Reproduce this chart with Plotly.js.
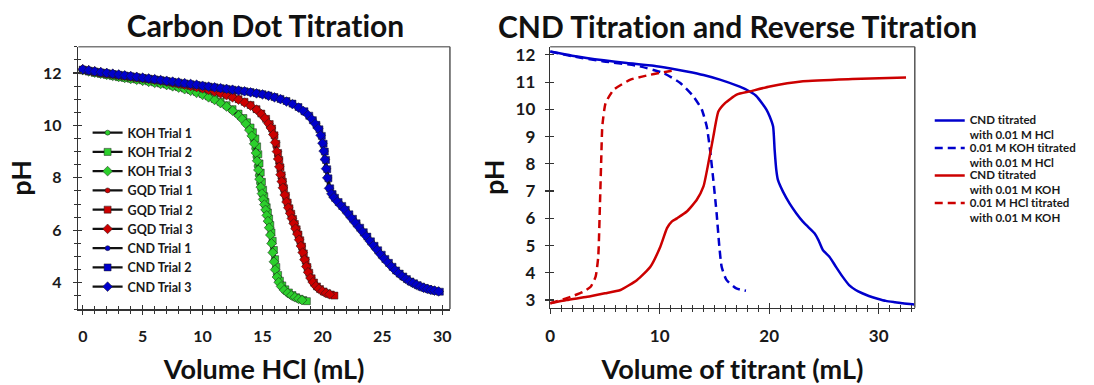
<!DOCTYPE html>
<html>
<head>
<meta charset="utf-8">
<script src="https://cdn.plot.ly/plotly-3.0.1.min.js"></script>
<style>html,body{margin:0;padding:0;background:#fff;}#chart{width:1094px;height:385px;}
svg text{font-variant-ligatures:none;font-feature-settings:"liga" 0,"clig" 0;}
#chart .infolayer g.legend2 text{font-size:11.5px !important;}</style>
</head>
<body>
<div id="chart"></div>
<script>
// ---------- Left chart: Carbon Dot Titration (Volume HCl, mL vs pH) ----------
const kohT1X = [0,0.5,1,1.5,2,2.5,3,3.5,4,4.5,5,5.5,6,6.5,7,7.5,8,8.5,9,9.5,10,10.5,11,11.5,12,12.4,12.8,13.1,13.4,13.6,13.8,14.0,14.15,14.3,14.4,14.5,14.6,14.7,14.8,14.9,15.0,15.1,15.2,15.3,15.4,15.5,15.6,15.7,15.8,15.9,16.0,16.1,16.25,16.4,16.6,16.8,17.0,17.3,17.6,17.9,18.2,18.5];
const kohT1Y = [12.12,12.07,12.02,11.98,11.94,11.9,11.86,11.82,11.79,11.76,11.73,11.69,11.65,11.61,11.56,11.51,11.46,11.4,11.33,11.25,11.16,11.06,10.95,10.83,10.69,10.56,10.42,10.3,10.15,10.03,9.88,9.68,9.45,9.12,8.8,8.45,8.1,7.8,7.55,7.35,7.15,6.95,6.75,6.55,6.33,6.1,5.85,5.55,5.2,4.85,4.55,4.32,4.1,3.94,3.8,3.7,3.62,3.53,3.46,3.4,3.35,3.31];
const kohT2X = [0,0.5,1,1.5,2,2.5,3,3.5,4,4.5,5,5.5,6,6.5,7,7.5,8,8.5,9,9.5,10,10.5,11,11.5,12,12.5,13,13.4,13.7,14.0,14.2,14.4,14.55,14.65,14.75,14.85,14.95,15.05,15.15,15.25,15.35,15.45,15.55,15.65,15.75,15.85,15.95,16.05,16.15,16.3,16.45,16.65,16.9,17.2,17.5,17.8,18.1,18.4,18.7];
const kohT2Y = [12.1,12.05,12.0,11.96,11.92,11.88,11.84,11.81,11.78,11.75,11.72,11.68,11.64,11.6,11.56,11.51,11.46,11.41,11.35,11.28,11.2,11.11,11.01,10.9,10.77,10.62,10.45,10.28,10.12,9.92,9.74,9.5,9.2,8.9,8.55,8.2,7.85,7.55,7.3,7.08,6.88,6.68,6.45,6.2,5.92,5.6,5.25,4.9,4.6,4.3,4.08,3.9,3.75,3.63,3.53,3.45,3.39,3.34,3.3];
const kohT3X = [0,0.5,1,1.5,2,2.5,3,3.5,4,4.5,5,5.5,6,6.5,7,7.5,8,8.5,9,9.5,10,10.5,11,11.5,12,12.5,13,13.3,13.6,13.9,14.1,14.3,14.45,14.55,14.65,14.75,14.85,14.95,15.05,15.15,15.25,15.35,15.45,15.55,15.65,15.75,15.85,15.95,16.05,16.2,16.35,16.55,16.8,17.1,17.4,17.7,18.0,18.3];
const kohT3Y = [12.11,12.06,12.01,11.97,11.93,11.89,11.85,11.81,11.77,11.74,11.7,11.66,11.62,11.58,11.54,11.49,11.44,11.38,11.32,11.24,11.16,11.07,10.97,10.85,10.72,10.56,10.38,10.24,10.06,9.82,9.6,9.3,8.95,8.65,8.3,7.95,7.65,7.4,7.18,6.98,6.78,6.57,6.35,6.1,5.82,5.5,5.15,4.8,4.5,4.22,4.02,3.86,3.72,3.61,3.52,3.45,3.39,3.34];

const gqdT1X = [0,0.5,1,1.5,2,2.5,3,3.5,4,4.5,5,5.5,6,6.5,7,7.5,8,8.5,9,9.5,10,10.5,11,11.5,12,12.5,13,13.5,14,14.4,14.8,15.1,15.4,15.6,15.8,16.0,16.1,16.2,16.3,16.4,16.5,16.6,16.75,16.9,17.05,17.2,17.35,17.5,17.65,17.8,17.95,18.1,18.25,18.4,18.55,18.7,18.9,19.1,19.35,19.6,19.9,20.2,20.5,20.8];
const gqdT1Y = [12.13,12.09,12.05,12.01,11.97,11.94,11.91,11.88,11.85,11.82,11.79,11.76,11.73,11.7,11.66,11.62,11.58,11.54,11.5,11.45,11.4,11.34,11.28,11.21,11.13,11.05,10.96,10.85,10.72,10.58,10.42,10.27,10.08,9.92,9.7,9.4,9.15,8.85,8.55,8.25,7.98,7.72,7.42,7.15,6.92,6.7,6.5,6.3,6.1,5.9,5.68,5.45,5.2,4.92,4.65,4.42,4.2,4.03,3.88,3.78,3.69,3.62,3.57,3.53];
const gqdT2X = [0,0.5,1,1.5,2,2.5,3,3.5,4,4.5,5,5.5,6,6.5,7,7.5,8,8.5,9,9.5,10,10.5,11,11.5,12,12.5,13,13.5,14,14.5,14.9,15.3,15.6,15.8,16.0,16.15,16.3,16.4,16.5,16.6,16.7,16.8,16.95,17.1,17.25,17.4,17.55,17.7,17.85,18.0,18.15,18.3,18.45,18.6,18.75,18.9,19.1,19.3,19.55,19.8,20.1,20.4,20.7,21.0];
const gqdT2Y = [12.12,12.08,12.04,12.0,11.97,11.94,11.91,11.88,11.85,11.82,11.8,11.77,11.74,11.71,11.67,11.63,11.59,11.55,11.51,11.47,11.42,11.37,11.31,11.24,11.17,11.09,11.0,10.9,10.78,10.62,10.45,10.25,10.05,9.88,9.62,9.3,8.95,8.68,8.4,8.1,7.85,7.6,7.32,7.06,6.84,6.63,6.43,6.24,6.04,5.84,5.62,5.38,5.12,4.85,4.6,4.38,4.17,4.01,3.86,3.76,3.67,3.6,3.55,3.51];
const gqdT3X = [0,0.5,1,1.5,2,2.5,3,3.5,4,4.5,5,5.5,6,6.5,7,7.5,8,8.5,9,9.5,10,10.5,11,11.5,12,12.5,13,13.5,14,14.5,14.9,15.2,15.5,15.7,15.9,16.05,16.2,16.3,16.4,16.5,16.6,16.7,16.85,17.0,17.15,17.3,17.45,17.6,17.75,17.9,18.05,18.2,18.35,18.5,18.65,18.8,19.0,19.2,19.45,19.7,20.0,20.3,20.6];
const gqdT3Y = [12.14,12.1,12.06,12.02,11.98,11.95,11.92,11.89,11.86,11.83,11.8,11.77,11.74,11.71,11.67,11.63,11.59,11.55,11.5,11.46,11.41,11.35,11.29,11.22,11.15,11.07,10.98,10.87,10.75,10.6,10.43,10.27,10.07,9.9,9.65,9.35,9.0,8.72,8.42,8.12,7.86,7.62,7.35,7.08,6.86,6.65,6.45,6.26,6.06,5.86,5.64,5.4,5.15,4.88,4.62,4.4,4.18,4.02,3.87,3.77,3.68,3.61,3.56];

const cndT1X = [0,0.5,1,1.5,2,2.5,3,3.5,4,4.5,5,5.5,6,6.5,7,7.5,8,8.5,9,9.5,10,10.5,11,11.5,12,12.5,13,13.5,14,14.5,15,15.5,16,16.5,17,17.5,18,18.4,18.8,19.1,19.4,19.6,19.8,19.95,20.05,20.15,20.25,20.35,20.5,20.7,20.9,21.2,21.5,21.8,22.1,22.4,22.7,23.0,23.3,23.6,23.9,24.2,24.5,24.8,25.1,25.4,25.7,26.0,26.3,26.6,26.9,27.2,27.5,27.8,28.1,28.4,28.7,29.0,29.3,29.6];
const cndT1Y = [12.13,12.09,12.05,12.02,11.99,11.96,11.93,11.9,11.87,11.84,11.81,11.78,11.75,11.72,11.69,11.66,11.63,11.6,11.57,11.54,11.5,11.47,11.44,11.41,11.38,11.35,11.32,11.29,11.26,11.22,11.18,11.12,11.06,10.98,10.9,10.8,10.66,10.53,10.38,10.22,10.05,9.9,9.65,9.35,9.05,8.72,8.38,8.02,7.62,7.4,7.26,7.1,6.95,6.8,6.63,6.46,6.29,6.12,5.95,5.78,5.6,5.43,5.26,5.09,4.93,4.78,4.63,4.49,4.37,4.26,4.16,4.07,4.0,3.93,3.87,3.82,3.78,3.74,3.71,3.68];
const cndT2X = [0,0.5,1,1.5,2,2.5,3,3.5,4,4.5,5,5.5,6,6.5,7,7.5,8,8.5,9,9.5,10,10.5,11,11.5,12,12.5,13,13.5,14,14.5,15,15.5,16,16.5,17,17.5,18,18.5,18.9,19.2,19.5,19.75,19.95,20.1,20.2,20.3,20.4,20.5,20.65,20.85,21.05,21.35,21.65,21.95,22.25,22.55,22.85,23.15,23.45,23.75,24.05,24.35,24.65,24.95,25.25,25.55,25.85,26.15,26.45,26.75,27.05,27.35,27.65,27.95,28.25,28.55,28.85,29.15,29.45,29.8];
const cndT2Y = [12.12,12.08,12.05,12.02,11.99,11.96,11.93,11.9,11.87,11.84,11.81,11.78,11.75,11.72,11.69,11.66,11.63,11.6,11.57,11.54,11.51,11.48,11.45,11.42,11.39,11.36,11.33,11.3,11.27,11.23,11.19,11.14,11.08,11.01,10.93,10.83,10.7,10.54,10.37,10.2,10.02,9.85,9.6,9.3,9.0,8.68,8.33,7.98,7.6,7.38,7.24,7.08,6.93,6.78,6.61,6.44,6.27,6.1,5.93,5.76,5.58,5.41,5.24,5.07,4.91,4.76,4.61,4.47,4.35,4.24,4.14,4.05,3.98,3.91,3.85,3.8,3.76,3.72,3.69,3.66];
const cndT3X = [0,0.5,1,1.5,2,2.5,3,3.5,4,4.5,5,5.5,6,6.5,7,7.5,8,8.5,9,9.5,10,10.5,11,11.5,12,12.5,13,13.5,14,14.5,15,15.5,16,16.5,17,17.5,18,18.4,18.8,19.1,19.4,19.65,19.85,20.0,20.1,20.2,20.3,20.4,20.55,20.75,20.95,21.25,21.55,21.85,22.15,22.45,22.75,23.05,23.35,23.65,23.95,24.25,24.55,24.85,25.15,25.45,25.75,26.05,26.35,26.65,26.95,27.25,27.55,27.85,28.15,28.45,28.75,29.05,29.35,29.7];
const cndT3Y = [12.14,12.1,12.06,12.03,12.0,11.97,11.94,11.91,11.88,11.85,11.82,11.79,11.76,11.73,11.7,11.67,11.64,11.61,11.58,11.55,11.51,11.48,11.45,11.42,11.39,11.36,11.33,11.3,11.26,11.22,11.18,11.13,11.07,11.0,10.91,10.81,10.68,10.55,10.4,10.24,10.06,9.88,9.62,9.32,9.02,8.7,8.35,8.0,7.6,7.39,7.25,7.09,6.94,6.79,6.62,6.45,6.28,6.11,5.94,5.77,5.59,5.42,5.25,5.08,4.92,4.77,4.62,4.48,4.36,4.25,4.15,4.06,3.99,3.92,3.86,3.81,3.77,3.73,3.7,3.67];

// ---------- Right chart: CND Titration and Reverse Titration ----------
const cndHclX = [0,2,4.9,7,9.45,11,12.48,14,15.5,17,17.94,18.8,19.45,19.75,20.05,20.36,20.5,20.65,20.8,21.26,21.86,22.47,23.08,23.6,24.14,24.5,24.9,25.5,26.1,26.7,27.3,27.9,28.5,29.1,29.9,30.66,31.5,32.2,33.26];
const cndHclY = [12.12,11.97,11.8,11.7,11.6,11.5,11.39,11.26,11.09,10.88,10.72,10.5,10.17,9.99,9.74,9.37,8.51,7.78,7.41,6.98,6.55,6.19,5.88,5.67,5.45,5.2,4.84,4.59,4.22,3.86,3.55,3.37,3.25,3.15,3.05,2.97,2.92,2.88,2.84];
const kohHclX = [0,2,4.9,7.94,10.36,11.88,13.09,13.85,14.3,14.6,14.9,15.2,15.45,15.66,16.1,17.0,17.88];
const kohHclY = [12.12,11.95,11.76,11.6,11.33,10.97,10.47,9.99,9.37,8.51,7.41,6.19,4.96,4.22,3.74,3.43,3.34];
const cndKohX = [0,1.5,3.39,5,6.42,7.94,9.15,10.06,10.67,11.1,11.58,12.48,13.39,14.0,14.45,14.9,15.36,15.97,17.03,18.24,20.06,23.09,27.6,32.5];
const cndKohY = [2.88,3.0,3.12,3.25,3.37,3.74,4.22,4.96,5.64,5.88,6.0,6.25,6.68,7.17,8.03,9.0,9.92,10.23,10.54,10.66,10.84,11.03,11.11,11.17];
const hclKohX = [0,1.88,3.0,3.7,4.15,4.39,4.54,4.67,4.76,5.06,5.8,7.33,9.15,11.27];
const hclKohY = [2.88,3.12,3.3,3.49,3.86,4.59,6.43,8.27,9.37,10.23,10.72,11.09,11.27,11.43];

const leftNames = ['KOH Trial 1','KOH Trial 2','KOH Trial 3','GQD Trial 1','GQD Trial 2','GQD Trial 3','CND Trial 1','CND Trial 2','CND Trial 3'];
const rightNames = ['CND titrated<br>with 0.01 M HCl','0.01 M KOH titrated<br>with 0.01 M HCl','CND titrated<br>with 0.01 M KOH','0.01 M HCl titrated<br>with 0.01 M KOH'];
// invisible padding so the legend box measured at the base font is wide enough for the enlarged text
const PAD = '\u00A0'.repeat(14) + '\u200B';

const FONT = 'Lato, "Open Sans", "DejaVu Sans", sans-serif';
const GREEN = '#2ccf2c', RED = '#cc0000', BLUE = '#0000cc';
const W = 1094, H = 385;

const leftSets = [
  [kohT1X,kohT1Y,GREEN,'circle',5],[kohT2X,kohT2Y,GREEN,'square',7],[kohT3X,kohT3Y,GREEN,'diamond',7.5],
  [gqdT1X,gqdT1Y,RED,'circle',5],[gqdT2X,gqdT2Y,RED,'square',7],[gqdT3X,gqdT3Y,RED,'diamond',7.5],
  [cndT1X,cndT1Y,BLUE,'circle',5],[cndT2X,cndT2Y,BLUE,'square',7],[cndT3X,cndT3Y,BLUE,'diamond',7.5]
];
const traces = leftSets.map((s,i)=>({
  type:'scatter', mode:'lines+markers', x:s[0], y:s[1], name:leftNames[i],
  xaxis:'x', yaxis:'y', legend:'legend',
  line:{color:'#111', width:2.2},
  marker:{symbol:s[3], size:s[4], color:s[2], line:{color:'#1a1a1a', width:0.5}}
}));

const rightSets = [
  [cndHclX,cndHclY,BLUE,'solid'],[kohHclX,kohHclY,BLUE,'8px,5px'],
  [cndKohX,cndKohY,RED,'solid'],[hclKohX,hclKohY,RED,'8px,5px']
];
rightSets.forEach((s,i)=>traces.push({
  type:'scatter', mode:'lines', x:s[0], y:s[1],
  name: i===1 ? rightNames[i].replace('<br>', PAD+'<br>') : rightNames[i],
  xaxis:'x2', yaxis:'y2', legend:'legend2',
  line:{color:s[2], width:2.5, dash:s[3], shape:'spline', smoothing:0.5}
}));
// empty helper traces for the inner-tick overlay axes
traces.push({type:'scatter', x:[], y:[], xaxis:'x3', yaxis:'y', showlegend:false, hoverinfo:'skip'});
traces.push({type:'scatter', x:[], y:[], xaxis:'x', yaxis:'y3', showlegend:false, hoverinfo:'skip'});
traces.push({type:'scatter', x:[], y:[], xaxis:'x4', yaxis:'y2', showlegend:false, hoverinfo:'skip'});
traces.push({type:'scatter', x:[], y:[], xaxis:'x2', yaxis:'y4', showlegend:false, hoverinfo:'skip'});

const tickFont = (s)=>({family:FONT, size:s, color:'#1a1a1a', weight:700});
const titleFont = {family:FONT, size:27, color:'#111', weight:700};

const L = {x:[78.7,452], y:[46.7,309]};
const R = {x:[552.7,919], y:[46.7,307.7]};
const dx = (a)=>[a[0]/W, a[1]/W];
const dy = (a)=>[1-a[1]/H, 1-a[0]/H];

const baseAx = {showgrid:false, zeroline:false, showline:true, linecolor:'#333', linewidth:1.5, mirror:false,
  tickcolor:'#333', tickwidth:1.2, ticks:'outside'};
const innerAx = {showgrid:false, zeroline:false, showline:false, showticklabels:false, ticks:'inside', tickcolor:'#333', tickwidth:1.2};

const frame = (xr, yr)=>[
  {type:'line', xref:xr+' domain', yref:yr+' domain', x0:0, x1:1, y0:1, y1:1, line:{color:'#7a7a7a', width:1.5}},
  {type:'line', xref:xr+' domain', yref:yr+' domain', x0:1, x1:1, y0:0, y1:1, line:{color:'#555', width:1.5}}
];

const layout = {
  width:W, height:H, margin:{l:0,r:0,t:0,b:0}, paper_bgcolor:'#fff', plot_bgcolor:'#fff',
  font:{family:FONT, color:'#111'},
  showlegend:true,
  title:{text:'Carbon Dot Titration', x:265.5/W, xanchor:'center', y:1-26/H, yanchor:'middle', yref:'container',
    font:{family:FONT, size:30, color:'#111', weight:700}},
  xaxis:Object.assign({}, baseAx, {domain:dx(L.x), anchor:'y', range:[-0.37,30.64], tick0:0, dtick:5, ticklen:4,
    minor:{dtick:1, tick0:0, ticks:'outside', ticklen:3, tickcolor:'#333', tickwidth:1, showgrid:false},
    tickfont:tickFont(16), ticklabelstandoff:8,
    title:{text:'Volume HCl (mL)', font:titleFont, standoff:17}}),
  yaxis:Object.assign({}, baseAx, {domain:dy(L.y), anchor:'x', range:[3,13], tick0:0, dtick:2, ticklen:4,
    minor:{dtick:0.5, tick0:0, ticks:'outside', ticklen:3, tickcolor:'#333', tickwidth:1, showgrid:false},
    tickfont:tickFont(16), ticklabelstandoff:8,
    title:{text:'pH', font:titleFont, standoff:3}}),
  xaxis3:Object.assign({}, innerAx, {overlaying:'x', anchor:'y', range:[-0.37,30.64], tick0:0, dtick:5, ticklen:4,
    minor:{dtick:1, tick0:0, ticks:'inside', ticklen:3, tickcolor:'#333', tickwidth:1, showgrid:false}}),
  yaxis3:Object.assign({}, innerAx, {overlaying:'y', anchor:'x', side:'left', range:[3,13], tick0:0, dtick:2, ticklen:4,
    minor:{dtick:0.5, tick0:0, ticks:'inside', ticklen:3, tickcolor:'#333', tickwidth:1, showgrid:false}}),

  xaxis2:Object.assign({}, baseAx, {domain:dx(R.x), anchor:'y2', range:[0,33.3], tick0:0, dtick:10, ticklen:5,
    minor:{dtick:1, tick0:0, ticks:'outside', ticklen:3, tickcolor:'#333', tickwidth:1, showgrid:false},
    tickfont:tickFont(17), ticklabelstandoff:7,
    title:{text:'Volume of titrant (mL)', font:titleFont, standoff:17}}),
  yaxis2:Object.assign({}, baseAx, {domain:dy(R.y), anchor:'x2', range:[2.72,12.3], tick0:0, dtick:1, ticklen:4,
    tickfont:tickFont(17), ticklabelstandoff:6,
    title:{text:'pH', font:titleFont, standoff:3}}),
  xaxis4:Object.assign({}, innerAx, {overlaying:'x2', anchor:'y2', range:[0,33.3], tick0:0, dtick:10, ticklen:5,
    minor:{dtick:1, tick0:0, ticks:'inside', ticklen:3, tickcolor:'#333', tickwidth:1, showgrid:false}}),
  yaxis4:Object.assign({}, innerAx, {overlaying:'y2', anchor:'x2', side:'left', range:[2.72,12.3], tick0:0, dtick:1, ticklen:4}),

  legend:{x:88/W, xanchor:'left', y:1-118/H, yanchor:'top', bgcolor:'rgba(0,0,0,0)', borderwidth:0,
    font:{family:FONT, size:12.5, color:'#1a1a1a', weight:700}, tracegroupgap:0, itemclick:false},
  legend2:{x:934/W, xanchor:'left', y:1-108/H, yanchor:'top', bgcolor:'rgba(0,0,0,0)', borderwidth:0, valign:'top',
    font:{family:FONT, size:9.4, color:'#1a1a1a', weight:700}, tracegroupgap:0, itemclick:false},

  shapes:[].concat(frame('x','y'), frame('x2','y2')),
  annotations:[{text:'CND Titration and Reverse Titration', xref:'paper', yref:'paper', x:741/W, y:1-26/H,
    xanchor:'center', yanchor:'middle', showarrow:false, font:{family:FONT, size:30, color:'#111', weight:700}}]
};

Plotly.newPlot('chart', traces, layout, {staticPlot:true, displayModeBar:false});
</script>
</body>
</html>
